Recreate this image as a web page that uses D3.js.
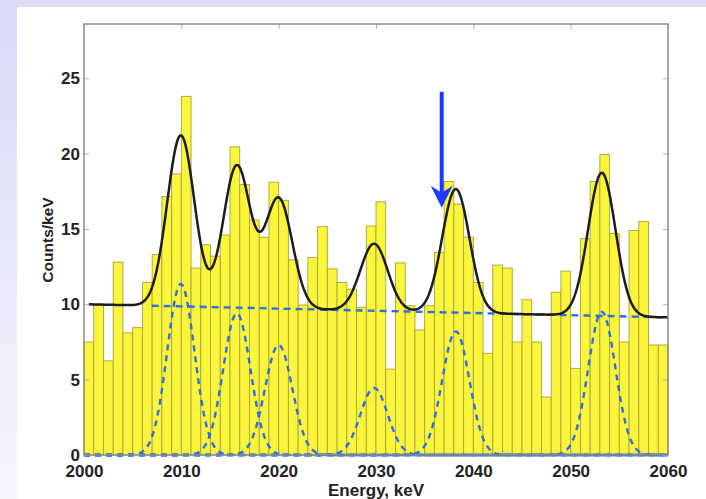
<!DOCTYPE html>
<html>
<head>
<meta charset="utf-8">
<script src="https://cdn.jsdelivr.net/npm/d3@7"></script>
<style>
  html, body { margin: 0; padding: 0; background: #fff; }
  svg { display: block; }
</style>
</head>
<body>
<div id="chart"></div>
<script>
// Histogram: counts per 1 keV bin, starting at 2000 keV
const binStart = 2000;
const counts = [
  7.5, 9.95, 6.25, 12.8, 8.1, 8.45, 11.45, 13.3, 17.15, 18.65,
  23.8, 12.4, 13.95, 13.2, 14.6, 20.45, 17.95, 15.6, 14.45, 18.1,
  16.9, 12.95, 9.95, 13.1, 15.15, 12.35, 11.45, 11.0, 9.8, 15.2,
  16.8, 5.7, 12.75, 9.9, 8.3, 9.9, 13.45, 18.15, 16.65, 14.45,
  11.45, 6.75, 12.6, 12.4, 7.5, 10.3, 7.5, 3.85, 10.8, 12.2,
  5.75, 14.35, 18.15, 19.95, 14.7, 7.5, 14.9, 15.5, 7.3, 7.3
];

// Fit: gaussian peaks on a linear background
const peakCenters = [2009.95, 2015.7, 2020.0, 2029.8, 2038.2, 2053.2];
const peakAmps = [11.35, 9.4, 7.3, 4.45, 8.2, 9.5];
const peakSigma = 1.4;
const bgEnergies = [2000.5, 2060];
const bgValues = [10.0, 9.13];
const bgDashedStart = 2006.95;
const fitRange = [2000.5, 2060];

// Arrow marker (energy, from value, to value)
const arrow = { e: 2036.75, from: 24.1, to: 16.4 };

const xTicks = [2000, 2010, 2020, 2030, 2040, 2050, 2060];
const yTicks = [0, 5, 10, 15, 20, 25];

const W = 706, H = 499;
const plot = { left: 84, right: 668, top: 24, bottom: 455 };

const svg = d3.select("#chart").append("svg")
  .attr("width", W).attr("height", H);

// slide-like background
const defs = svg.append("defs");
const grad = defs.append("linearGradient")
  .attr("id", "leftBand").attr("x1", 0).attr("y1", 0).attr("x2", 0).attr("y2", 1);
grad.append("stop").attr("offset", "0%").attr("stop-color", "#d9d9f8");
grad.append("stop").attr("offset", "100%").attr("stop-color", "#f6f6fd");

svg.append("rect").attr("width", W).attr("height", H).attr("fill", "url(#leftBand)");
svg.append("rect").attr("width", W).attr("height", 7).attr("fill", "#dcdcf9");
svg.append("rect").attr("x", 17).attr("y", 7).attr("width", W - 17).attr("height", H - 7)
  .attr("fill", "#fff");

const x = d3.scaleLinear().domain([2000, 2060]).range([plot.left, plot.right]);
const y = d3.scaleLinear().domain([0, 28.6]).range([plot.bottom, plot.top]);

// Bars
svg.append("g")
  .selectAll("rect")
  .data(counts)
  .join("rect")
  .attr("x", (d, i) => x(binStart + i))
  .attr("width", (d, i) => x(binStart + i + 1) - x(binStart + i))
  .attr("y", (d) => y(d))
  .attr("height", (d) => y(0) - y(d))
  .attr("fill", "#fbf53c")
  .attr("stroke", "#a8a23c")
  .attr("stroke-width", 0.9);

// Model pieces
const bg = d3.scaleLinear().domain(bgEnergies).range(bgValues);
const gauss = (e, c, a) => a * Math.exp(-((e - c) ** 2) / (2 * peakSigma * peakSigma));
const fit = (e) => bg(e) + d3.sum(peakCenters, (c, k) => gauss(e, c, peakAmps[k]));

const grid = d3.range(fitRange[0], fitRange[1] + 0.001, 0.1);
const line = d3.line().x((d) => x(d[0])).y((d) => y(d[1]));

// Dashed gaussian components
peakCenters.forEach((c, k) => {
  svg.append("path")
    .datum(d3.range(2000, 2060.001, 0.1).map((e) => [e, gauss(e, c, peakAmps[k])]))
    .attr("fill", "none")
    .attr("stroke", "#2f6ede")
    .attr("stroke-width", 2.4)
    .attr("stroke-dasharray", "6,5")
    .attr("d", line);
});

// Dashed background
svg.append("path")
  .datum([[bgDashedStart, bg(bgDashedStart)], [2060, bg(2060)]])
  .attr("fill", "none")
  .attr("stroke", "#2f6ede")
  .attr("stroke-width", 2.4)
  .attr("stroke-dasharray", "7,5")
  .attr("d", line);

// Fit curve
svg.append("path")
  .datum(grid.map((e) => [e, fit(e)]))
  .attr("fill", "none")
  .attr("stroke", "#1c1c1c")
  .attr("stroke-width", 2.5)
  .attr("d", line);

// Arrow
const ax = x(arrow.e), ay0 = y(arrow.from), ay1 = y(arrow.to);
svg.append("line")
  .attr("x1", ax).attr("x2", ax)
  .attr("y1", ay0).attr("y2", ay1 - 12)
  .attr("stroke", "#1e3cff")
  .attr("stroke-width", 4);
svg.append("path")
  .attr("d", `M${ax},${ay1} L${ax - 11},${ay1 - 22} L${ax},${ay1 - 15} L${ax + 11},${ay1 - 22} Z`)
  .attr("fill", "#1e3cff");

// Axes
const axisColor = "#8c8c8c";
const fontFamily = "'Liberation Sans', Arial, Helvetica, sans-serif";

function styleAxis(g) {
  g.select(".domain").remove();
  g.selectAll(".tick line").attr("stroke", "#b0b0b0").attr("stroke-width", 1);
  g.selectAll(".tick text")
    .attr("fill", "#222")
    .attr("font-family", fontFamily)
    .attr("font-weight", "bold")
    .attr("font-size", "17px");
}

svg.append("g")
  .attr("transform", `translate(0,${plot.bottom})`)
  .call(d3.axisBottom(x).tickValues(xTicks).tickFormat(d3.format("d")).tickSize(-5).tickPadding(10))
  .call(styleAxis);

svg.append("g")
  .attr("transform", `translate(${plot.left},0)`)
  .call(d3.axisLeft(y).tickValues(yTicks).tickSize(-5).tickPadding(4))
  .call(styleAxis);

svg.append("g")
  .attr("transform", `translate(0,${plot.top})`)
  .call(d3.axisTop(x).tickValues(xTicks).tickFormat("").tickSize(-5))
  .call(styleAxis);

svg.append("g")
  .attr("transform", `translate(${plot.right},0)`)
  .call(d3.axisRight(y).tickValues(yTicks).tickFormat("").tickSize(-5))
  .call(styleAxis);

// Frame
svg.append("rect")
  .attr("x", plot.left).attr("y", plot.top)
  .attr("width", plot.right - plot.left).attr("height", plot.bottom - plot.top)
  .attr("fill", "none")
  .attr("stroke", axisColor)
  .attr("stroke-width", 1.5);

// Axis titles
svg.append("text")
  .attr("x", (plot.left + plot.right) / 2)
  .attr("y", 496)
  .attr("text-anchor", "middle")
  .attr("font-family", fontFamily)
  .attr("font-weight", "bold")
  .attr("font-size", "17px")
  .attr("fill", "#222")
  .text("Energy, keV");

svg.append("text")
  .attr("transform", "rotate(-90)")
  .attr("x", -240)
  .attr("y", 53)
  .attr("text-anchor", "middle")
  .attr("font-family", fontFamily)
  .attr("font-weight", "bold")
  .attr("font-size", "15.5px")
  .attr("fill", "#222")
  .text("Counts/keV");
</script>
</body>
</html>
